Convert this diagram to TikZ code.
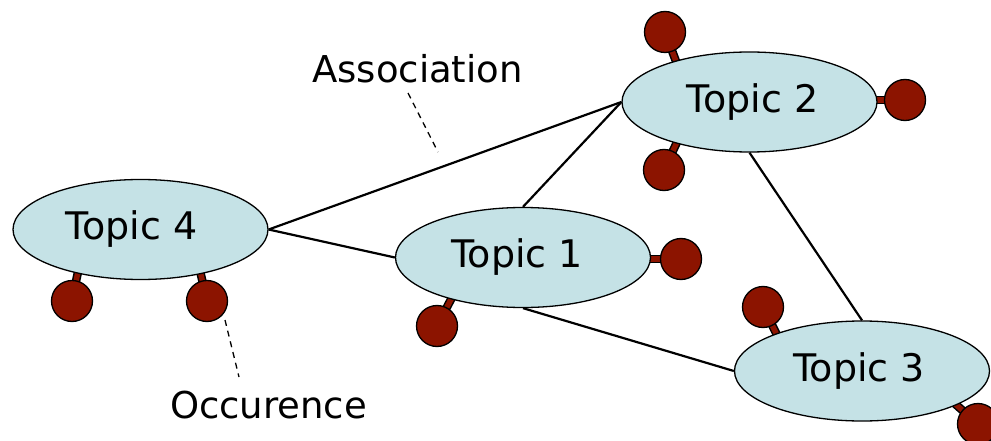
\documentclass[tikz,border=0pt]{standalone}
\usepackage{fontspec}
\setmainfont{DejaVu Sans}
\usetikzlibrary{shapes.geometric}
\pgfdeclarelayer{back}
\pgfsetlayers{back,main}
\definecolor{topicfill}{RGB}{197,226,230}
\definecolor{occfill}{RGB}{140,20,0}
\newcommand{\shifted}[2]{\hspace*{#1}#2\hspace*{-#1}}
\tikzset{
  topic/.style={ellipse, draw=black, line width=1.3pt, fill=topicfill,
    minimum width=255pt, minimum height=100pt, inner sep=0pt,
    font=\fontsize{38}{45}\selectfont},
  occ/.style={circle, draw=black, line width=1.3pt, fill=occfill,
    minimum size=41pt, inner sep=0pt},
  assoc/.style={line width=2.2pt, draw=black},
  stemout/.style={line width=8.5pt, draw=black},
  stemin/.style={line width=5.5pt, draw=occfill},
  leader/.style={line width=1.3pt, dashed, dash pattern=on 6pt off 5pt},
  label/.style={font=\fontsize{37}{44}\selectfont, anchor=base, inner sep=0pt}
}
\begin{document}
\begin{tikzpicture}[x=1pt,y=-1pt]
\useasboundingbox (0,0) rectangle (991,441);
\clip (0,0) rectangle (991,441);

% topics
\node[topic] (t4) at (140.5,229.5) {\shifted{-9pt}{Topic 4}};
\node[topic] (t1) at (523,257.5) {\shifted{-6pt}{Topic 1}};
\node[topic] (t2) at (749.5,102) {\shifted{3pt}{Topic 2}};
\node[topic] (t3) at (862,371) {\shifted{-3pt}{Topic 3}};

% occurrences
\node[occ] (o2a) at (665,32) {};
\node[occ] (o2b) at (905,100) {};
\node[occ] (o2c) at (664,170) {};
\node[occ] (o4a) at (72,301) {};
\node[occ] (o4b) at (207,301) {};
\node[occ] (o1a) at (681,259) {};
\node[occ] (o1b) at (437,326) {};
\node[occ] (o3a) at (763,307) {};
\node[occ] (o3b) at (978,424) {};

% inner ends of the occurrence stems
\coordinate (s2a) at (680,72);
\coordinate (s2b) at (860,100);
\coordinate (s2c) at (685,125);
\coordinate (s4a) at (80,262);
\coordinate (s4b) at (198,262);
\coordinate (s1a) at (640,259);
\coordinate (s1b) at (457,288);
\coordinate (s3a) at (782,345);
\coordinate (s3b) at (945,395);

\begin{pgfonlayer}{back}
  \foreach \o/\s in {o2a/s2a,o2b/s2b,o2c/s2c,o4a/s4a,o4b/s4b,o1a/s1a,o1b/s1b,o3a/s3a,o3b/s3b}{
    \draw[stemout] (\o.center) -- (\s);
    \draw[stemin] (\o.center) -- (\s);
  }
  % associations
  \draw[assoc] (t4.east) -- (t2.west);
  \draw[assoc] (t4.east) -- (t1.west);
  \draw[assoc] (t1.north) -- (t2.west);
  \draw[assoc] (t2.south) -- (t3.north);
  \draw[assoc] (t1.south) -- (t3.west);
\end{pgfonlayer}

% labels with their leaders
\node[label] (la) at (417.5,83) {Association};
\node[label] (lo) at (268.5,418) {Occurence};
\coordinate (la1) at (408,93);
\coordinate (la2) at (438,152);
\coordinate (lo1) at (225,320);
\coordinate (lo2) at (239,377);
\draw[leader] (la1) -- (la2);
\draw[leader] (lo1) -- (lo2);
\end{tikzpicture}
\end{document}
